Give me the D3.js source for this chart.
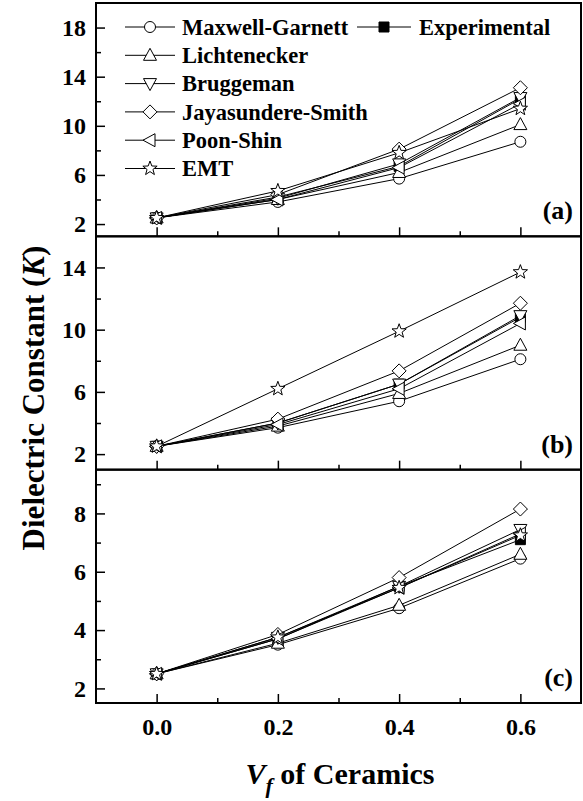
<!DOCTYPE html>
<html>
<head>
<meta charset="utf-8">
<script src="https://cdn.jsdelivr.net/npm/d3@7"></script>
<style>
  body { margin: 0; background: #fff; }
  text { font-family: "Liberation Serif", "Times New Roman", serif; font-weight: bold; fill: #000; }
</style>
</head>
<body>
<div id="chart"></div>
<script>
// volume fraction of ceramics
const fractions = [0, 0.2, 0.4, 0.6];
const seriesNames = ['Maxwell-Garnett', 'Lichtenecker', 'Bruggeman', 'Jayasundere-Smith', 'Poon-Shin', 'EMT', 'Experimental'];
const seriesShapes = ['circle', 'triUp', 'triDown', 'diamond', 'triLeft', 'star', 'square'];

// values in seriesNames order
const panelA = [
    [2.5, 3.8, 5.7, 8.7],
    [2.5, 4.0, 6.2, 10.1],
    [2.5, 4.1, 6.9, 12.3],
    [2.5, 4.4, 8.1, 13.1],
    [2.5, 4.0, 6.6, 11.8],
    [2.5, 4.7, 7.8, 11.4],
    [2.5, 4.2, 6.7, 12.2]
];
const panelB = [
    [2.5, 3.7, 5.4, 8.1],
    [2.5, 3.8, 5.9, 9.0],
    [2.5, 4.0, 6.5, 10.9],
    [2.5, 4.25, 7.35, 11.7],
    [2.5, 3.9, 6.2, 10.4],
    [2.5, 6.2, 9.9, 13.7],
    [2.5, 4.0, 6.5, 10.8]
];
const panelC = [
    [2.5, 3.5, 4.75, 6.45],
    [2.5, 3.55, 4.85, 6.6],
    [2.5, 3.75, 5.5, 7.45],
    [2.5, 3.85, 5.8, 8.15],
    [2.5, 3.7, 5.45, 7.3],
    [2.5, 3.75, 5.45, 7.25],
    [2.5, 3.7, 5.5, 7.1]
];

const xTicks = [0, 0.2, 0.4, 0.6];
const xMinor = [0.1, 0.3, 0.5];

const panels = [
    { data: panelA, label: '(a)', domain: [1, 20], major: [2, 6, 10, 14, 18], minor: [4, 8, 12, 16] },
    { data: panelB, label: '(b)', domain: [1, 16], major: [2, 6, 10, 14], minor: [4, 8, 12] },
    { data: panelC, label: '(c)', domain: [1.5, 9.5], major: [2, 4, 6, 8], minor: [3, 5, 7, 9] }
];

const W = 583, H = 801;
const plotLeft = 96, plotRight = 581, plotTop = 3, plotBottom = 703;
const panelH = (plotBottom - plotTop) / 3;

const svg = d3.select('#chart').append('svg')
    .attr('width', W)
    .attr('height', H);

const x = d3.scaleLinear().domain([-0.1, 0.7]).range([plotLeft, plotRight]);

// marker shapes
function markerPath(shape) {
    const p = d3.path();
    if (shape === 'circle') {
        p.arc(0, 0, 5.5, 0, 2 * Math.PI);
    } else if (shape === 'square') {
        p.rect(-5, -5, 10, 10);
    } else if (shape === 'diamond') {
        p.moveTo(0, -7); p.lineTo(7, 0); p.lineTo(0, 7); p.lineTo(-7, 0); p.closePath();
    } else if (shape === 'triUp') {
        p.moveTo(0, -7); p.lineTo(6.5, 5); p.lineTo(-6.5, 5); p.closePath();
    } else if (shape === 'triDown') {
        p.moveTo(0, 7); p.lineTo(6.5, -5); p.lineTo(-6.5, -5); p.closePath();
    } else if (shape === 'triLeft') {
        p.moveTo(-7, 0); p.lineTo(5, -6.5); p.lineTo(5, 6.5); p.closePath();
    } else if (shape === 'star') {
        for (let i = 0; i < 10; i++) {
            const r = i % 2 === 0 ? 7.5 : 3.1;
            const a = -Math.PI / 2 + i * Math.PI / 5;
            if (i === 0) p.moveTo(r * Math.cos(a), r * Math.sin(a));
            else p.lineTo(r * Math.cos(a), r * Math.sin(a));
        }
        p.closePath();
    }
    return p.toString();
}

function drawMarker(g, shape, cx, cy) {
    g.append('path')
        .attr('d', markerPath(shape))
        .attr('transform', `translate(${cx},${cy})`)
        .attr('fill', shape === 'square' ? '#000' : '#fff')
        .attr('stroke', '#000')
        .attr('stroke-width', 1);
}

// experimental first, models on top of it
const drawOrder = [6, 0, 1, 2, 3, 4, 5];

panels.forEach((panel, pi) => {
    const y0 = plotTop + pi * panelH;
    const y = d3.scaleLinear().domain(panel.domain).range([y0 + panelH, y0]);
    const g = svg.append('g');

    // left axis, ticks inward
    g.append('g')
        .attr('transform', `translate(${plotLeft},0)`)
        .call(d3.axisLeft(y).tickValues(panel.major).tickSize(-9).tickPadding(10))
        .call(a => a.select('.domain').remove())
        .call(a => a.selectAll('text').style('font-size', '24px').style('font-family', 'Liberation Serif').style('font-weight', 'bold'))
        .call(a => a.selectAll('line').attr('stroke-width', 1.5));
    g.append('g')
        .attr('transform', `translate(${plotLeft},0)`)
        .call(d3.axisLeft(y).tickValues(panel.minor).tickSize(-5).tickFormat(''))
        .call(a => a.select('.domain').remove())
        .call(a => a.selectAll('line').attr('stroke-width', 1.5));

    // bottom axis, ticks inward
    const xa = g.append('g')
        .attr('transform', `translate(0,${y0 + panelH})`)
        .call(d3.axisBottom(x).tickValues(xTicks).tickSize(-9).tickPadding(15).tickFormat(d3.format('.1f')))
        .call(a => a.select('.domain').remove())
        .call(a => a.selectAll('line').attr('stroke-width', 1.5))
        .call(a => a.selectAll('text').style('font-size', '24px').style('font-family', 'Liberation Serif').style('font-weight', 'bold'));
    if (pi < 2) xa.selectAll('text').remove();
    g.append('g')
        .attr('transform', `translate(0,${y0 + panelH})`)
        .call(d3.axisBottom(x).tickValues(xMinor).tickSize(-5).tickFormat(''))
        .call(a => a.select('.domain').remove())
        .call(a => a.selectAll('line').attr('stroke-width', 1.5));

    // lines
    const line = d3.line()
        .x((d, i) => x(fractions[i]))
        .y(d => y(d));
    drawOrder.forEach(si => {
        g.append('path')
            .datum(panel.data[si])
            .attr('d', line)
            .attr('fill', 'none')
            .attr('stroke', '#000')
            .attr('stroke-width', 1);
    });

    // markers
    drawOrder.forEach(si => {
        panel.data[si].forEach((v, i) => {
            drawMarker(g, seriesShapes[si], x(fractions[i]), y(v));
        });
    });

    // frame
    g.append('rect')
        .attr('x', plotLeft)
        .attr('y', y0)
        .attr('width', plotRight - plotLeft)
        .attr('height', panelH)
        .attr('fill', 'none')
        .attr('stroke', '#000')
        .attr('stroke-width', 2);

    g.append('text')
        .attr('x', plotRight - 8)
        .attr('y', y0 + panelH - 17)
        .attr('text-anchor', 'end')
        .style('font-size', '26px')
        .text(panel.label);
});

// legend
const legend = svg.append('g');
const legendRows = [0, 1, 2, 3, 4, 5];
legendRows.forEach((si, i) => {
    const ly = 27 + i * 28.3;
    legend.append('line')
        .attr('x1', 125).attr('x2', 175)
        .attr('y1', ly).attr('y2', ly)
        .attr('stroke', '#000').attr('stroke-width', 1);
    drawMarker(legend, seriesShapes[si], 150, ly);
    legend.append('text')
        .attr('x', 182).attr('y', ly)
        .attr('dy', '0.35em')
        .style('font-size', '22.5px')
        .text(seriesNames[si]);
});
{
    const ly = 27;
    legend.append('line')
        .attr('x1', 357).attr('x2', 411)
        .attr('y1', ly).attr('y2', ly)
        .attr('stroke', '#000').attr('stroke-width', 1);
    drawMarker(legend, 'square', 384, ly);
    legend.append('text')
        .attr('x', 419).attr('y', ly)
        .attr('dy', '0.35em')
        .style('font-size', '22.5px')
        .text(seriesNames[6]);
}

// axis titles
const yt = svg.append('text')
    .attr('transform', `translate(44,398) rotate(-90)`)
    .attr('text-anchor', 'middle')
    .style('font-size', '31px');
yt.append('tspan').text('Dielectric Constant (');
yt.append('tspan').attr('font-style', 'italic').text('K');
yt.append('tspan').text(')');

const xt = svg.append('text')
    .attr('x', 340)
    .attr('y', 784)
    .attr('text-anchor', 'middle')
    .style('font-size', '30px');
xt.append('tspan').attr('font-style', 'italic').text('V');
xt.append('tspan').attr('font-style', 'italic').attr('dy', 9).style('font-size', '22px').text('f');
xt.append('tspan').attr('dy', -9).text(' of Ceramics');
</script>
</body>
</html>
